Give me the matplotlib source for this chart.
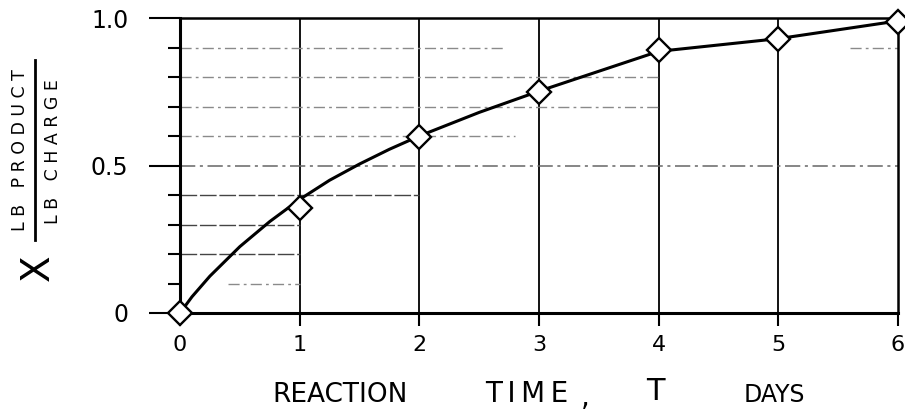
import matplotlib
matplotlib.use("Agg")
import matplotlib.pyplot as plt
from matplotlib.lines import Line2D

# ---- data ----
time_days = [0, 1, 2, 3, 4, 5, 6]
x_fraction = [0.0, 0.355, 0.598, 0.75, 0.89, 0.93, 0.988]

# hand-drawn smooth curve
curve_t = [0, 0.1, 0.25, 0.5, 0.75, 1.0, 1.25, 1.5, 1.75, 2.0, 2.5, 3.0, 4.0, 5.0, 6.0]
curve_x = [0, 0.055, 0.125, 0.225, 0.31, 0.385, 0.45, 0.505, 0.555, 0.60, 0.68,
           0.752, 0.887, 0.93, 0.99]

x_ticks = [0, 1, 2, 3, 4, 5, 6]
x_tick_labels = ["0", "1", "2", "3", "4", "5", "6"]
y_ticks = [0, 0.5, 1.0]
y_tick_labels = ["0", "0.5", "1.0"]
y_minor = [0.1, 0.2, 0.3, 0.4, 0.6, 0.7, 0.8, 0.9]

# partial horizontal guide lines drawn on the sheet (level, from, to)
guide_levels = [0.1, 0.2, 0.3, 0.4, 0.6, 0.7, 0.8, 0.9, 0.9]
guide_starts = [0.4, 0.0, 0.0, 0.0, 0.0, 0.0, 0.0, 0.0, 5.6]
guide_ends = [1.0, 1.0, 1.0, 2.0, 2.8, 4.0, 4.0, 2.7, 6.0]
half_level = 0.5

W, H = 905, 417
fig = plt.figure(figsize=(W / 100, H / 100), dpi=100)
ax = fig.add_axes([180 / W, 1 - 313 / H, 718 / W, 295 / H])

ax.set_xlim(0, 6)
ax.set_ylim(0, 1.0)

# vertical grid lines
for t in x_ticks[1:-1]:
    ax.axvline(t, color="black", lw=1.3, zorder=1)

# horizontal guide lines
for lv, s, e in zip(guide_levels, guide_starts, guide_ends):
    solid_ish = lv in (0.2, 0.3, 0.4)
    ls = (0, (12, 2)) if solid_ish else (0, (8, 3, 2, 3))
    col = "#444444" if solid_ish else "#8a8a8a"
    ax.plot([s, e], [lv, lv], color=col, lw=1.0, ls=ls, zorder=1)
ax.axhline(half_level, color="#666666", lw=1.1, ls=(0, (10, 3, 2, 3)), zorder=1)

# smooth curve and data points
ax.plot(curve_t, curve_x, color="black", lw=2.2, zorder=3, clip_on=False,
        solid_capstyle="round", solid_joinstyle="round")
ax.plot(time_days, x_fraction, ls="none", marker="D", ms=12, mfc="white",
        mec="black", mew=1.7, zorder=4, clip_on=False)

# spines
for side in ["left", "bottom"]:
    ax.spines[side].set_linewidth(2.2)
for side in ["top", "right"]:
    ax.spines[side].set_linewidth(1.8)

# ticks
ax.set_xticks(x_ticks)
ax.set_xticklabels(x_tick_labels)
ax.set_yticks(y_ticks)
ax.set_yticklabels(y_tick_labels)
ax.set_yticks(y_minor, minor=True)
ax.tick_params(axis="x", direction="out", length=9, width=1.5, pad=7,
               labelsize=16)
ax.tick_params(axis="y", which="major", direction="out", length=22, width=1.5,
               pad=15, labelsize=17)
ax.tick_params(axis="y", which="minor", direction="out", length=9, width=1.5)
ax.tick_params(axis="x", which="minor", length=0)

# x-axis label (hand lettered words)
def ftxt(px, py, s, **kw):
    fig.text(px / W, 1 - py / H, s, **kw)

ftxt(340, 395, "REACTION", ha="center", va="center", fontsize=19)
ftxt(527, 394, "T\u2009I\u2009M\u2009E", ha="center", va="center", fontsize=20)
ftxt(585, 398, ",", ha="center", va="center", fontsize=20)
ftxt(655, 392, "T", ha="center", va="center", fontsize=22)
ftxt(774, 395, "DAYS", ha="center", va="center", fontsize=17)

# y-axis label: X  LB PRODUCT / LB CHARGE
ftxt(20, 150, "L B   P R O D U C T", ha="center", va="center", fontsize=12.5,
     rotation=90)
ftxt(53, 152, "L B   C H A R G E", ha="center", va="center", fontsize=12.5,
     rotation=90)
fig.add_artist(Line2D([35 / W, 35 / W], [1 - 60 / H, 1 - 240 / H],
                      transform=fig.transFigure, color="black", lw=2))
ftxt(38, 268, "X", ha="center", va="center", fontsize=28, rotation=90)

fig.savefig("out.png", dpi=100)
